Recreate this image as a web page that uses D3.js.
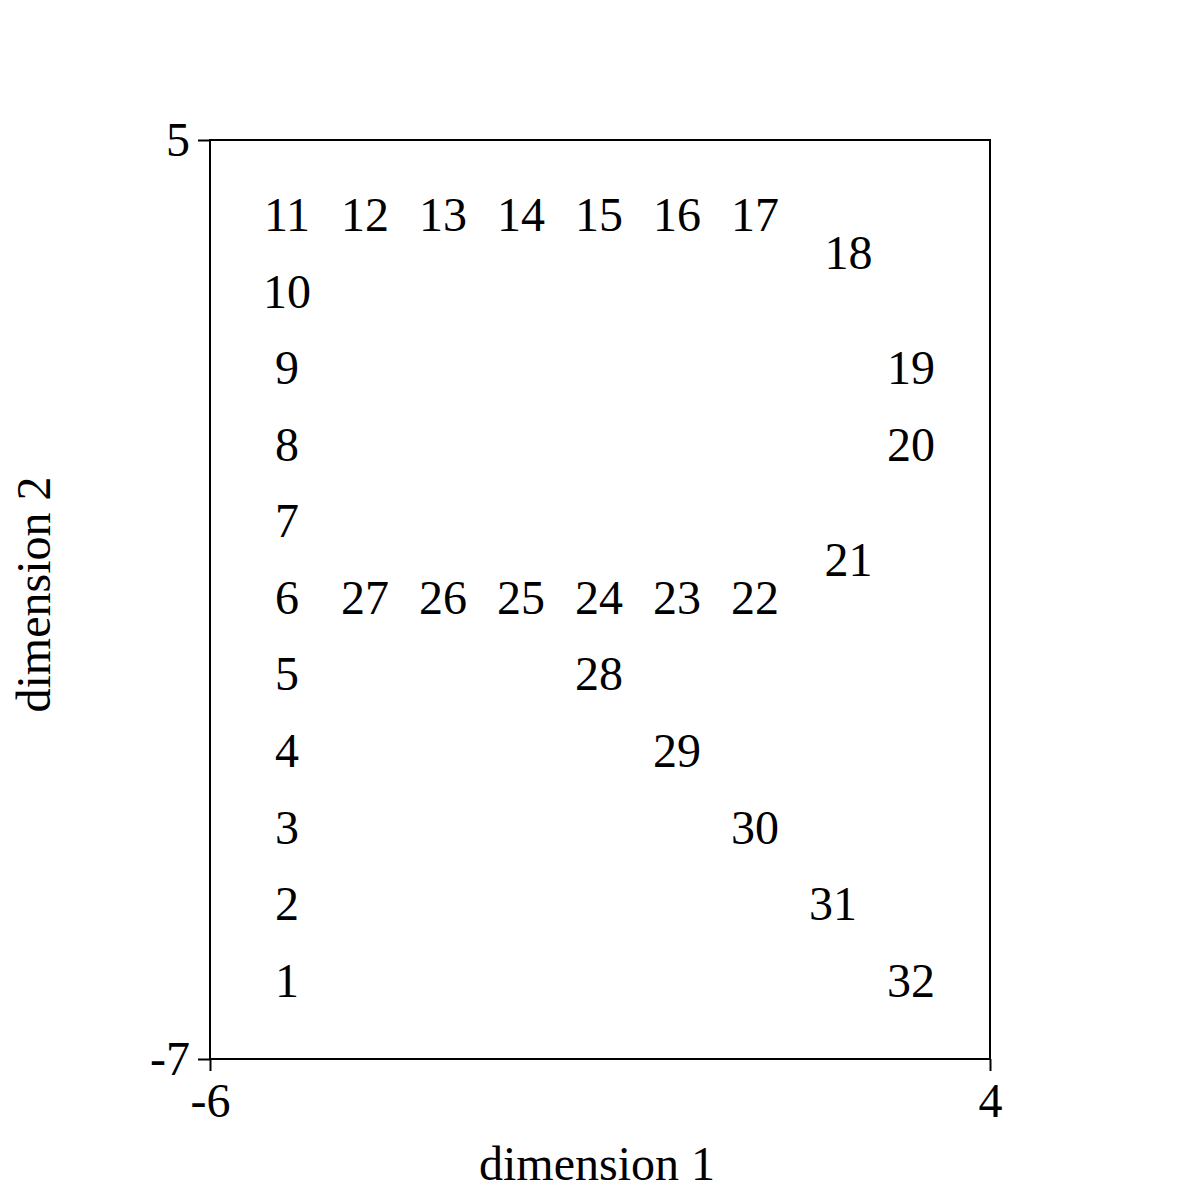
<!DOCTYPE html>
<html>
<head>
<meta charset="utf-8">
<script src="https://cdn.jsdelivr.net/npm/d3@7"></script>
<style>
  html, body { margin: 0; padding: 0; background: #fff; }
  svg { display: block; }
  text { font-family: "Liberation Serif", "Times New Roman", serif; fill: #000; }
</style>
</head>
<body>
<svg id="chart" width="1200" height="1200"></svg>
<script>
// Point labels and their coordinates (dimension 1, dimension 2)
const labels = ["1","2","3","4","5","6","7","8","9","10","11",
                "12","13","14","15","16","17","18","19","20","21",
                "22","23","24","25","26","27","28","29","30","31","32"];
const dim1 = [-5,-5,-5,-5,-5,-5,-5,-5,-5,-5,-5,
              -4,-3,-2,-1,0,1,2.2,3,3,2.2,
              1,0,-1,-2,-3,-4,-1,0,1,2,3];
const dim2 = [-6,-5,-4,-3,-2,-1,0,1,2,3,4,
              4,4,4,4,4,4,3.5,2,1,-0.5,
              -1,-1,-1,-1,-1,-1,-2,-3,-4,-5,-6];
const xTicks = [-6, 4];
const yTicks = [-7, 5];
const xTitle = "dimension 1";
const yTitle = "dimension 2";

(function () {
const svg = d3.select("#chart");
const mL = 210, mR = 990, mT = 140, mB = 1059;

const x = d3.scaleLinear().domain([-6, 4]).range([mL, mR]);
const y = d3.scaleLinear().domain([-7, 5]).range([mB, mT]);

const fs = 48;

// frame (top and right)
svg.append("line").attr("x1", mL).attr("x2", mR + 1).attr("y1", mT).attr("y2", mT)
  .attr("stroke", "#000").attr("stroke-width", 2);
svg.append("line").attr("x1", mR).attr("x2", mR).attr("y1", mT).attr("y2", mB)
  .attr("stroke", "#000").attr("stroke-width", 2);

const fmt = d => String(d);
const xAxis = svg.append("g").attr("transform", `translate(0,${mB})`)
  .call(d3.axisBottom(x).tickValues(xTicks).tickFormat(fmt).tickSizeOuter(0).tickSize(12).tickPadding(12));
const yAxis = svg.append("g").attr("transform", `translate(${mL},0)`)
  .call(d3.axisLeft(y).tickValues(yTicks).tickFormat(fmt).tickSizeOuter(0).tickSize(12).tickPadding(8));

[xAxis, yAxis].forEach(g => {
  g.select(".domain").attr("stroke", "#000").attr("stroke-width", 2);
  g.selectAll(".tick line").attr("stroke", "#000").attr("stroke-width", 2);
  g.selectAll(".tick text").style("font-family", '"Liberation Serif", "Times New Roman", serif')
    .style("font-size", fs + "px").attr("fill", "#000");
});
xAxis.select(".domain").attr("d", `M${mL - 1},0H${mR + 1}`);
yAxis.select(".domain").attr("d", `M0,${mB + 1}V${mT - 1}`);

// point labels
svg.append("g").selectAll("text").data(labels).join("text")
  .attr("x", (d, i) => x(dim1[i]) - 1)
  .attr("y", (d, i) => y(dim2[i]))
  .attr("dy", "0.3em")
  .attr("text-anchor", "middle")
  .style("font-size", fs + "px")
  .text(d => d);

// axis titles
svg.append("text").attr("x", (mL + mR) / 2 - 3).attr("y", 1180)
  .attr("text-anchor", "middle").style("font-size", fs + "px").text(xTitle);
svg.append("text").attr("transform", `translate(50,${(mT + mB) / 2 - 5}) rotate(-90)`)
  .attr("text-anchor", "middle").style("font-size", fs + "px").text(yTitle);
})();
</script>
</body>
</html>
